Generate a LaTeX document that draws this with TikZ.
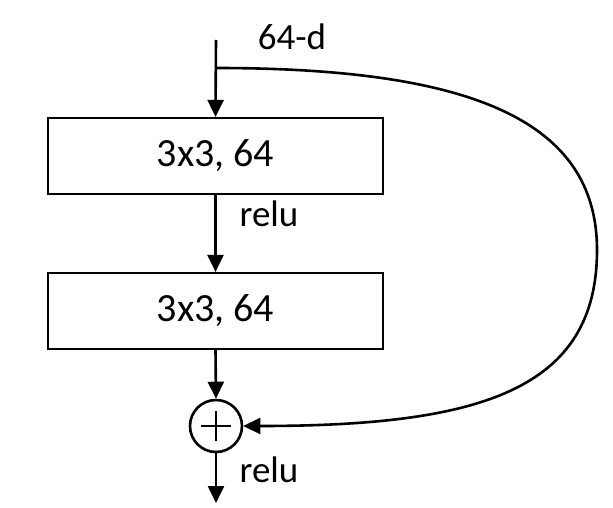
\documentclass[tikz,border=0pt]{standalone}
\usepackage{fontspec}
\setmainfont{Carlito}
\usetikzlibrary{arrows.meta,calc}
\begin{document}
\begin{tikzpicture}[x=1pt,y=-1pt,
  layer/.style={draw,line width=2.2pt,minimum width=335pt,minimum height=76pt,inner sep=0pt,font=\fontsize{40}{48}\selectfont},
  lbl/.style={font=\fontsize{37}{44}\selectfont,inner sep=0pt},
  conn/.style={line width=2.6pt,-{Triangle[length=17pt,width=16pt]}},
  sumnode/.style={draw,circle,line width=2.6pt,minimum size=52pt,inner sep=0pt}]
\useasboundingbox (0,0) rectangle (613,508);
\coordinate (in) at (216,40);
\coordinate (split) at (216,68);
\node[layer] (b1) at (215.5,156) {3x3, 64};
\node[layer] (b2) at (215.5,311) {3x3, 64};
\node[sumnode] (add) at (216,426) {};
\draw[line width=2.6pt] ($(add.center)+(-15,0)$) -- +(30,0);
\draw[line width=2.6pt] ($(add.center)+(0,-15)$) -- +(0,30);
\coordinate (out) at (216,503);
\node[lbl] (d) at (292,37) {64-d};
\node[lbl] (r1) at (269,214) {relu};
\node[lbl] (r2) at (269,470) {relu};
\draw[conn] (in) -- (b1.north);
\draw[conn] (b1.south) -- (b2.north);
\draw[conn] (b2.south) -- (add.north);
\draw[conn] (add.south) -- (out);
\draw[conn] (split) .. controls (470,68) and (597,120) .. (597,250)
  .. controls (597,390) and (480,426) .. (add.east);
\end{tikzpicture}
\end{document}
